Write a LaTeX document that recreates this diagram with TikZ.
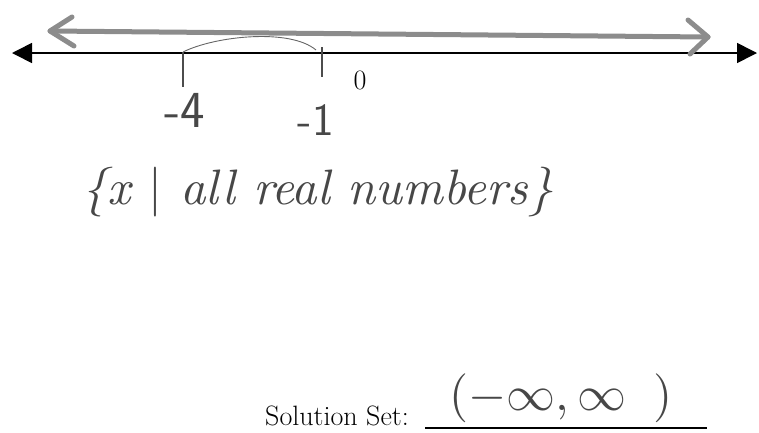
\documentclass[tikz,border=0pt]{standalone}
\usepackage{fontspec}
\usetikzlibrary{arrows.meta}
\tikzset{
  hand/.style={text=black!72, inner sep=0pt},
  handline/.style={draw=black!45, line width=5pt, line cap=round, line join=round},
  thinhand/.style={draw=black!60, line width=0.9pt},
  axis/.style={draw=black, line width=1.6pt,
    {Triangle[length=20pt,width=20pt]}-{Triangle[length=20pt,width=20pt]}},
  tickmark/.style={draw=black!70, line width=2.4pt},
  print/.style={font=\fontsize{28}{32}\selectfont, text=black, inner sep=0pt},
}
\begin{document}
\begin{tikzpicture}[x=1pt,y=-1pt]
\useasboundingbox (0,0) rectangle (759,432);
% number line
\coordinate (L) at (12,53);
\coordinate (R) at (757,53);
\draw[axis] (L) -- (R);
% ticks
\coordinate (t4a) at (183,52);
\coordinate (t4b) at (183,87);
\coordinate (t1a) at (322,47);
\coordinate (t1b) at (322,77);
\draw[tickmark] (t4a) -- (t4b);
\draw[tickmark] (t1a) -- (t1b);
% labels
\node[print] (zero) at (360,80) {0};
\node[hand, font=\sffamily\fontsize{52}{52}\selectfont] (m4) at (185,110) {-4};
\node[hand, font=\sffamily\fontsize{46}{46}\selectfont] (m1) at (316,120) {-1};
% hand-drawn shading arrow
\coordinate (GA) at (50,31);
\coordinate (GB) at (708,37);
\coordinate (GA1) at (72,17);
\coordinate (GA2) at (74,46);
\coordinate (GB1) at (688,20);
\coordinate (GB2) at (690,54);
\draw[handline] (GA) -- (GB);
\draw[handline] (GA1) -- (GA) -- (GA2);
\draw[handline] (GB1) -- (GB) -- (GB2);
\draw[thinhand] (t4a) .. controls (215,36) and (290,28) .. (316,50);
% set-builder text
\node[hand] (setb) at (318,192) {\resizebox{470pt}{!}{\itshape\{x $|$ all real numbers\}}};
% solution set
\node[print, anchor=base west] (sol) at (265,425) {Solution Set:};
\coordinate (u1) at (425,428);
\coordinate (u2) at (707,428);
\draw[line width=1.5pt] (u1) -- (u2);
\node[hand] (ans) at (561,398) {\resizebox{223pt}{!}{$(-\infty,\infty\;\;)$}};
\end{tikzpicture}
\end{document}
